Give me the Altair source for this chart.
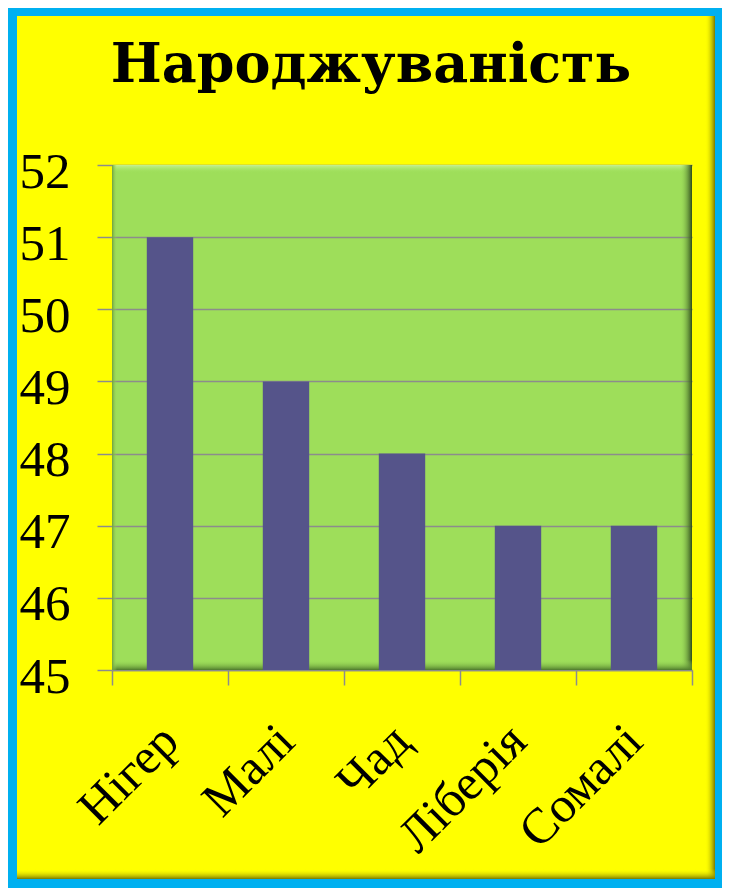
import altair as alt
import pandas as pd

# ---- data ----
countries = ["Нігер", "Малі", "Чад", "Ліберія", "Сомалі"]
values = [51, 49, 48, 47, 47]
y_ticks = [45, 46, 47, 48, 49, 50, 51, 52]
y_min, y_max = 45, 52
title_text = "Народжуваність"

df = pd.DataFrame({"country": countries, "value": values})
one = pd.DataFrame({"a": [0]})

W, H = 580, 505
YELLOW = "#FFFF00"
BLUE = "#00B0F0"
GREEN = "#9EDE5A"
BAR = "#55548A"
GRID = "#8C8C8C"
SERIF = "Liberation Serif"

x_enc = alt.X(
    "country:N",
    sort=countries,
    scale=alt.Scale(paddingInner=0, paddingOuter=0),
    axis=alt.Axis(
        title=None,
        labelAngle=-45,
        labelAlign="right",
        labelBaseline="middle",
        labelFont=SERIF,
        labelFontSize=50,
        labelColor="black",
        labelPadding=48,
        labelOverlap=False,
        tickBand="extent",
        tickSize=15,
        tickColor=GRID,
        tickWidth=1.5,
        domainColor=GRID,
        domainWidth=1.5,
        grid=False,
    ),
)
y_enc = alt.Y(
    "value:Q",
    scale=alt.Scale(domain=[y_min, y_max], nice=False, zero=False),
    axis=alt.Axis(
        title=None,
        values=y_ticks,
        format="d",
        labelFont=SERIF,
        labelFontSize=51,
        labelColor="black",
        labelBaseline="alphabetic",
        labelOffset=22,
        labelPadding=27,
        labelOverlap=False,
        labelFlush=False,
        tickSize=15,
        tickColor=GRID,
        tickWidth=1.5,
        domain=False,
        grid=True,
        gridColor=GRID,
        gridWidth=1.5,
    ),
)

def grad(c1, c2, horizontal=True):
    return alt.Gradient(
        gradient="linear",
        stops=[alt.GradientStop(color=c1, offset=0), alt.GradientStop(color=c2, offset=1)],
        x1=0, x2=1 if horizontal else 0, y1=0, y2=0 if horizontal else 1,
    )

def deco(x, x2, y, y2, color):
    return alt.Chart(one).mark_rect(color=color).encode(
        x=alt.value(x), x2=alt.value(x2), y=alt.value(y), y2=alt.value(y2)
    )

# bevel of the yellow panel
yb_right = deco(593, 603, -149, 714, grad("rgba(255,255,0,0)", "#7A7A00"))
yb_bottom = deco(-95, 603, 704, 714, grad("rgba(255,255,0,0)", "#7A7A00", horizontal=False))
# bevel of the plot area
pb_top = deco(0, W, 0, 8, grad("#C8F690", "rgba(158,222,90,0)", horizontal=False))
pb_right = deco(W - 12, W, 0, H, grad("rgba(158,222,90,0)", "#2E4A1C"))
pb_bottom = deco(0, W, H - 10, H, grad("rgba(158,222,90,0)", "#4E7A2C", horizontal=False))
pb_left = deco(0, 5, 0, H, grad("#6E9E40", "rgba(158,222,90,0)"))

bars = alt.Chart(df).mark_bar(
    color=BAR, width=alt.RelativeBandSize(0.4)
).encode(x=x_enc, y=y_enc, y2=alt.datum(y_min))

frame = alt.Chart(one).mark_rect(
    fillOpacity=0, stroke=BLUE, strokeWidth=10
).encode(x=alt.value(-100), x2=alt.value(608), y=alt.value(-154), y2=alt.value(719))

title = alt.Chart(one).mark_text(
    text=title_text, font="DejaVu Serif", fontSize=54, fontWeight="bold",
    color="black", align="center", baseline="alphabetic"
).encode(x=alt.value(259), y=alt.value(-83))

chart = alt.layer(
    pb_top, pb_right, pb_bottom, pb_left, bars, yb_right, yb_bottom, frame, title
).properties(
    width=W, height=H,
    autosize=alt.AutoSizeParams(type="none"),
    padding={"left": 104, "top": 157, "right": 30, "bottom": 218},
    background=YELLOW,
).configure_view(fill=GREEN, stroke=None)

chart.save("out.html", embed_options={"renderer": "svg", "actions": False})
